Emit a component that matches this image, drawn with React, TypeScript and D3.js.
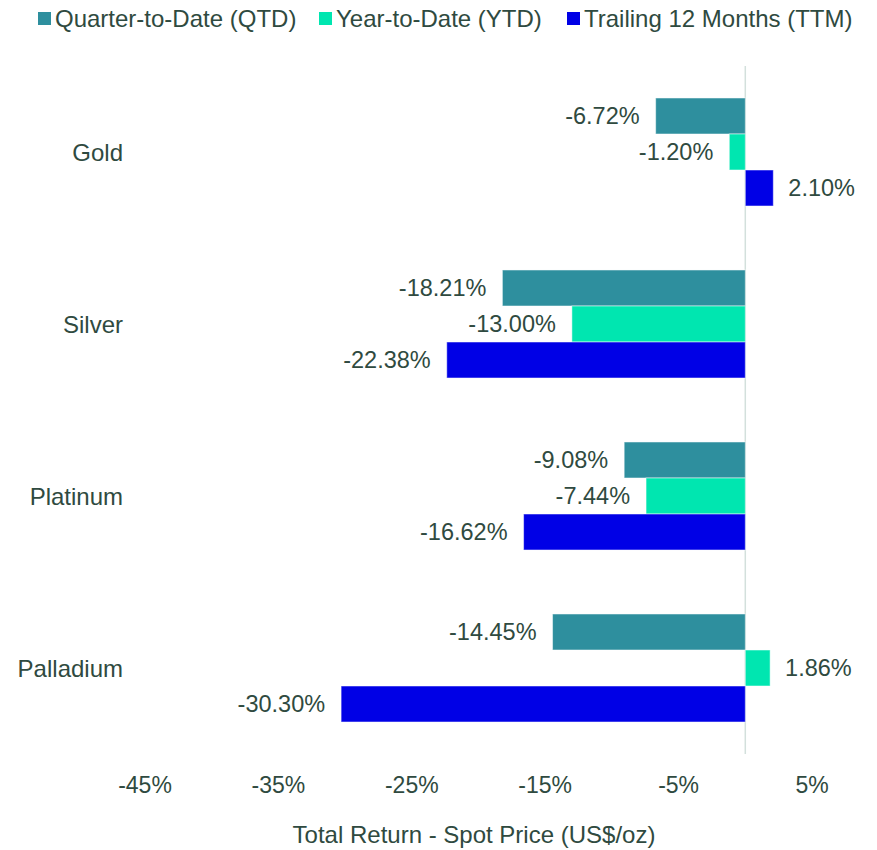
import React from "react";
import * as d3 from "d3";

const categories = ["Gold", "Silver", "Platinum", "Palladium"];
const seriesNames = ["Quarter-to-Date (QTD)", "Year-to-Date (YTD)", "Trailing 12 Months (TTM)"];
const qtd = [-6.72, -18.21, -9.08, -14.45];
const ytd = [-1.2, -13.0, -7.44, 1.86];
const ttm = [2.1, -22.38, -16.62, -30.3];
const tickValues = [-45, -35, -25, -15, -5, 5];
const colors = ["#2E8F9E", "#00E6B0", "#0000E6"];
const axisTitle = "Total Return - Spot Price (US$/oz)";

const W = 877;
const H = 850;
const textColor = "#2F4A40";
const font = "'Liberation Sans', Arial, sans-serif";

export default function App() {
  const series = [qtd, ytd, ttm];
  const x = d3.scaleLinear().domain([-45, 5]).range([145, 812]);
  const y = d3
    .scaleBand<string>()
    .domain(categories)
    .range([66, 754])
    .paddingInner(0.372)
    .paddingOuter(0.186);
  const inner = d3
    .scaleBand<number>()
    .domain([0, 1, 2])
    .range([0, y.bandwidth()]);

  const legendX = [38, 319, 567];

  return (
    <svg
      width={W}
      height={H}
      style={{ position: "absolute", left: 0, top: 0, background: "#fff" }}
      fontFamily={font}
    >
      {/* legend */}
      {seriesNames.map((name, i) => (
        <g key={name}>
          <rect x={legendX[i]} y={12} width={13} height={13} fill={colors[i]} />
          <text x={legendX[i] + 17} y={27} fontSize={24} fill={textColor}>
            {name}
          </text>
        </g>
      ))}

      {/* zero line */}
      <line x1={x(0)} x2={x(0)} y1={66} y2={754} stroke="#D3E0DC" strokeWidth={1.5} />

      {categories.map((cat, ci) => (
        <g key={cat}>
          <text
            x={123}
            y={y(cat)! + y.bandwidth() / 2}
            textAnchor="end"
            dominantBaseline="central"
            fontSize={24}
            fill={textColor}
          >
            {cat}
          </text>
          {series.map((s, si) => {
            const v = s[ci];
            const x0 = x(Math.min(0, v));
            const x1 = x(Math.max(0, v));
            const by = y(cat)! + inner(si)!;
            const bh = inner.bandwidth();
            const label = v.toFixed(2) + "%";
            return (
              <g key={si}>
                <rect
                  x={x0}
                  y={by}
                  width={x1 - x0}
                  height={bh}
                  fill={colors[si]}
                  stroke="#ffffff"
                  strokeOpacity={0.5}
                  strokeWidth={1}
                />
                <text
                  x={v < 0 ? x0 - 16 : x1 + 15}
                  y={by + bh / 2}
                  textAnchor={v < 0 ? "end" : "start"}
                  dominantBaseline="central"
                  fontSize={23.5}
                  fill={textColor}
                >
                  {label}
                </text>
              </g>
            );
          })}
        </g>
      ))}

      {/* x tick labels */}
      {tickValues.map((t) => (
        <text
          key={t}
          x={x(t)}
          y={793}
          textAnchor="middle"
          fontSize={23}
          fill={textColor}
        >
          {t + "%"}
        </text>
      ))}

      <text x={474} y={843} textAnchor="middle" fontSize={24} fill={textColor}>
        {axisTitle}
      </text>
    </svg>
  );
}
